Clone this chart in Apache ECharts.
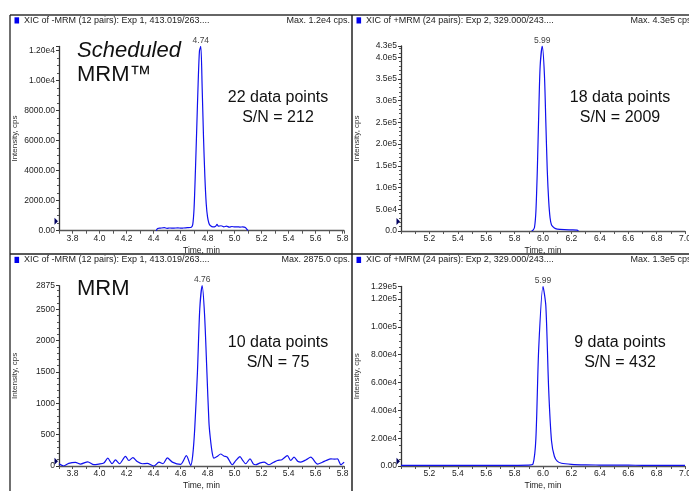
<!DOCTYPE html>
<html><head><meta charset="utf-8">
<script src="https://cdn.jsdelivr.net/npm/echarts@6/dist/echarts.min.js"></script>
<style>html,body{margin:0;padding:0;overflow:hidden;background:#fff}#c{width:700px;height:491px}</style>
</head><body><div id="c"></div>
<script>
// ---- data ----
const tlTime = [4.42,4.43,4.45,4.48,4.50,4.52,4.55,4.58,4.60,4.62,4.65,4.68,4.69,4.70,4.71,4.72,4.73,4.74,4.75,4.76,4.77,4.78,4.79,4.80,4.81,4.82,4.84,4.86,4.87,4.88,4.90,4.92,4.94,4.96,4.98,5.00,5.02,5.04,5.06,5.08,5.09,5.10];
const tlInt  = [0,150,170,200,160,180,170,190,170,180,200,230,400,1500,4000,6900,9800,12000,12290,9500,6200,3600,1800,900,500,350,250,300,420,300,330,260,300,240,280,250,260,240,250,220,100,0];

const trTime = [5.92,5.93,5.94,5.95,5.96,5.97,5.98,5.995,6.01,6.02,6.03,6.04,6.05,6.06,6.08,6.10,6.15,6.20,6.24,6.25];
const trInt  = [0,2000,8000,45000,140000,270000,380000,426000,360000,250000,140000,70000,30000,14000,7000,4500,3000,2500,2000,0];

const blTime = [3.700,3.735,3.772,3.822,3.859,3.913,3.958,3.995,4.032,4.061,4.093,4.118,4.148,4.192,4.217,4.247,4.279,4.316,4.353,4.403,4.440,4.470,4.502,4.539,4.601,4.643,4.675,4.690,4.705,4.725,4.742,4.760,4.778,4.795,4.810,4.820,4.835,4.847,4.870,4.897,4.920,4.946,4.983,5.010,5.040,5.060,5.082,5.114,5.140,5.156,5.190,5.218,5.255,5.290,5.317,5.350,5.391,5.416,5.440,5.470,5.490,5.530,5.564,5.614,5.650,5.680,5.713,5.740,5.762,5.787,5.811];
const blInt  = [36,0,41,57,31,67,21,31,47,124,36,98,36,155,88,134,72,36,41,0,62,36,129,62,26,165,10,170,600,1500,2500,2875,2400,1500,700,450,200,124,150,191,160,140,20,90,150,90,36,113,30,20,50,62,20,60,88,100,165,88,140,70,62,100,140,30,60,90,113,110,113,20,62];

const brTime = [5.00,5.10,5.20,5.30,5.40,5.50,5.60,5.70,5.80,5.90,5.93,5.95,5.97,6.00,6.02,6.04,6.06,6.08,6.10,6.13,6.20,6.30,6.40,6.50,6.60,6.70,6.80,6.90,7.00];
const brInt  = [500,450,500,400,500,450,500,450,500,600,1500,20000,85000,129000,115000,55000,18000,7000,3500,2000,1200,800,700,600,600,500,500,400,500];

const peakLabels = ['4.74','5.99','4.76','5.99'];
const headers = ['XIC of -MRM (12 pairs): Exp 1, 413.019/263....','XIC of +MRM (24 pairs): Exp 2, 329.000/243....','XIC of -MRM (12 pairs): Exp 1, 413.019/263....','XIC of +MRM (24 pairs): Exp 2, 329.000/243....'];
const maxTexts = ['Max. 1.2e4 cps.','Max. 4.3e5 cps.','Max. 2875.0 cps.','Max. 1.3e5 cps.'];
const noteLines = [['22 data points','S/N = 212'],['18 data points','S/N = 2009'],['10 data points','S/N = 75'],['9 data points','S/N = 432']];

// ---- layout ----
const F = 'Arial, "Liberation Sans", sans-serif';
const grids = [
  {left:59, top:46.4, width:285, height:184.3},
  {left:401, top:46, width:284, height:185},
  {left:59, top:285.7, width:285, height:185},
  {left:401, top:286.5, width:284, height:184.2}
];
const xr = [[3.7,5.81],[5.0,7.0],[3.7,5.81],[5.0,7.0]];
const yr = [[0,12290,2000,4],[0,426000,50000,5],[0,2875,500,5],[0,129000,20000,4]];

function isEvenTenth(v){const t=v*10;return Math.abs(t-Math.round(t))<1e-6 && Math.round(t)%2===0;}
const yFmt = [
  v => v===0?'0.00':(v>=12290?'':(v<10000?v.toFixed(2):(v/1e4).toFixed(2)+'e4')),
  v => v===0?'0.0':(v<1e5?(v/1e4).toFixed(1)+'e4':(v/1e5).toFixed(1)+'e5'),
  v => String(Math.round(v)),
  v => v===0?'0.00':(v<1e5?(v/1e4).toFixed(2)+'e4':(v/1e5).toFixed(2)+'e5')
];

const axisCol = '#333';
const xAxes = [], yAxes = [], series = [];
const datasets = [[tlTime,tlInt],[trTime,trInt],[blTime,blInt],[brTime,brInt]];
for (let i=0;i<4;i++){
  xAxes.push({type:'value', gridIndex:i, min:xr[i][0], max:xr[i][1], interval:0.1,
    name:'Time, min', nameLocation:'middle', nameGap:15,
    nameTextStyle:{fontFamily:F,fontSize:8.5,color:'#222'},
    axisLine:{lineStyle:{color:'#555',width:1.3}},
    axisTick:{length:3,lineStyle:{color:'#555'}},
    splitLine:{show:false},
    axisLabel:{fontFamily:F,fontSize:8.5,color:'#222',margin:3,
      formatter:v=>(isEvenTenth(v)&&v>xr[i][0]+1e-6)?v.toFixed(1):''}});
  yAxes.push({type:'value', gridIndex:i, min:yr[i][0], max:yr[i][1], interval:yr[i][2],
    name:'Intensity, cps', nameLocation:'middle', nameGap:40,
    nameTextStyle:{fontFamily:F,fontSize:8,color:'#333'},
    axisLine:{show:true,lineStyle:{color:axisCol,width:1.3}},
    axisTick:{show:true,length:3,lineStyle:{color:axisCol}},
    minorTick:{show:true,splitNumber:yr[i][3],length:2,lineStyle:{color:'#555'}},
    splitLine:{show:false}, minorSplitLine:{show:false},
    axisLabel:{fontFamily:F,fontSize:8.5,color:'#222',margin:4,formatter:yFmt[i]}});
  const d = datasets[i][0].map((t,k)=>[t,datasets[i][1][k]]);
  series.push({type:'line', xAxisIndex:i, yAxisIndex:i, data:d, showSymbol:false, smooth:0.25,
    lineStyle:{color:'#1010ee',width:1.2}, animation:false, silent:true,
    markPoint:{symbol:'circle',symbolSize:0.1,silent:true,
      label:{show:true,position:'top',distance:1,formatter:peakLabels[i],fontFamily:F,fontSize:8.5,color:'#444'},
      data:[{type:'max'}]}});
}

// ---- decorations ----
const g = [];
const frameCol = '#222';
g.push({type:'line',shape:{x1:10,y1:15,x2:700,y2:15},style:{stroke:'#666',lineWidth:2}});
g.push({type:'line',shape:{x1:10,y1:15,x2:10,y2:491},style:{stroke:frameCol,lineWidth:1.3}});
g.push({type:'line',shape:{x1:352,y1:15,x2:352,y2:491},style:{stroke:frameCol,lineWidth:1.5}});
g.push({type:'line',shape:{x1:10,y1:254,x2:700,y2:254},style:{stroke:frameCol,lineWidth:1.5}});
const hx = [[14.5,24,350],[356.5,366,694],[14.5,24,350],[356.5,366,694]];
const hy = [20.5,20.5,260,260];
for (let i=0;i<4;i++){
  g.push({type:'rect',shape:{x:hx[i][0],y:hy[i]-3.2,width:4.6,height:6.2},style:{fill:'#0000ee'}});
  g.push({type:'text',x:hx[i][1],y:hy[i],style:{text:headers[i],font:'9px '+F,fill:'#222',textVerticalAlign:'middle'}});
  g.push({type:'text',x:hx[i][2],y:hy[i],style:{text:maxTexts[i],font:'9px '+F,fill:'#222',textAlign:'right',textVerticalAlign:'middle'}});
  const gx = grids[i].left + 219;
  const ny = i<2 ? [98,117.5] : [343,362.5];
  g.push({type:'text',x:gx,y:ny[0],style:{text:noteLines[i][0],font:'16px '+F,fill:'#111',textAlign:'center',textVerticalAlign:'middle'}});
  g.push({type:'text',x:gx,y:ny[1],style:{text:noteLines[i][1],font:'16px '+F,fill:'#111',textAlign:'center',textVerticalAlign:'middle'}});
  const ty = grids[i].top + grids[i].height - 9.5;
  const tx = grids[i].left - 1.5;
  g.push({type:'polygon',shape:{points:[[tx-3,ty-3.5],[tx+0.5,ty],[tx-3,ty+3.5]]},style:{fill:'#000060'}});
}
g.push({type:'text',x:77,y:50.5,style:{text:'Scheduled',font:'italic 22px '+F,fill:'#111',textVerticalAlign:'middle'}});
g.push({type:'text',x:77,y:75,style:{text:'MRM\u2122',font:'22px '+F,fill:'#111',textVerticalAlign:'middle'}});
g.push({type:'text',x:77,y:289,style:{text:'MRM',font:'22px '+F,fill:'#111',textVerticalAlign:'middle'}});

const chart = echarts.init(document.getElementById('c'),null,{renderer:'canvas'});
chart.setOption({animation:false, grid:grids, xAxis:xAxes, yAxis:yAxes, series:series, graphic:g});
</script></body></html>
